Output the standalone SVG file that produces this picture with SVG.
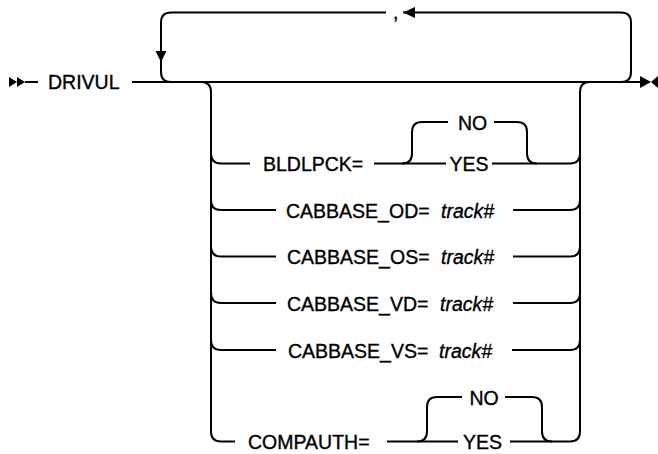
<svg xmlns="http://www.w3.org/2000/svg" width="658" height="454" viewBox="0 0 658 454">
<style>
.ln{fill:none;stroke:#000;stroke-width:2;stroke-linecap:butt;stroke-linejoin:round}
.mk{fill:#000;stroke:none}
text{font-family:"Liberation Sans",Arial,sans-serif;font-size:19.5px;fill:#000;stroke:#000;stroke-width:0.35}
.v{font-style:italic}
</style>
<rect width="658" height="454" fill="#fff"/>
<g id="connectors">
  <polygon class="mk" points="9,77 17,82 9,87"/>
  <polygon class="mk" points="17,77 25,82 17,87"/>
  <line class="ln" x1="25" y1="82" x2="38" y2="82"/>
  <line class="ln" x1="132" y1="82" x2="641" y2="82"/>
  <path class="ln" d="M621,82 Q631,82 631,72 L631,22.5 Q631,12.5 621,12.5 L403,12.5"/>
  <path class="ln" d="M386,12.5 L171,12.5 Q161,12.5 161,22.5 L161,72 Q161,82 171,82"/>
  <polygon class="mk" points="403,12.5 415,7 415,18"/>
  <polygon class="mk" points="161,62 155.5,51 166.5,51"/>
  <path class="ln" d="M201,82 Q211,82 211,92 L211,431.5 Q211,441.5 221,441.5 L235,441.5"/>
  <path class="ln" d="M590,82 Q580,82 580,92 L580,431.5 Q580,441.5 570,441.5 L510,441.5"/>
  <path class="ln" d="M211,153.5 Q211,163.5 221,163.5 L250,163.5"/>
  <line class="ln" x1="374" y1="163.5" x2="446" y2="163.5"/>
  <path class="ln" d="M492,163.5 L570,163.5 Q580,163.5 580,153.5"/>
  <path class="ln" d="M402,163.5 Q412,163.5 412,153.5 L412,132 Q412,122 422,122 L448,122"/>
  <path class="ln" d="M494,122 L517,122 Q527,122 527,132 L527,153.5 Q527,163.5 537,163.5"/>
  <path class="ln" d="M211,200 Q211,210 221,210 L276,210"/>
  <path class="ln" d="M513,210 L570,210 Q580,210 580,200"/>
  <path class="ln" d="M211,246.5 Q211,256.5 221,256.5 L276,256.5"/>
  <path class="ln" d="M513,256.5 L570,256.5 Q580,256.5 580,246.5"/>
  <path class="ln" d="M211,293 Q211,303 221,303 L276,303"/>
  <path class="ln" d="M513,303 L570,303 Q580,303 580,293"/>
  <path class="ln" d="M211,340 Q211,350 221,350 L276,350"/>
  <path class="ln" d="M512,350 L570,350 Q580,350 580,340"/>
  <line class="ln" x1="387" y1="441.5" x2="458" y2="441.5"/>
  <path class="ln" d="M417,441.5 Q427,441.5 427,431.5 L427,407 Q427,397 437,397 L462,397"/>
  <path class="ln" d="M505,397 L532,397 Q542,397 542,407 L542,431.5 Q542,441.5 552,441.5"/>
  <polygon class="mk" points="640,76 651,82 640,88"/>
  <polygon class="mk" points="658,76 651,82 658,88"/>
</g>
<g id="node-drivul"><text x="48" y="89">DRIVUL</text></g>
<g id="node-comma"><text x="393" y="19">,</text></g>
<g id="node-bldlpck">
  <text x="263" y="171">BLDLPCK=</text>
  <text x="472.5" y="129.5" text-anchor="middle">NO</text>
  <text x="469" y="171" text-anchor="middle">YES</text>
</g>
<g id="node-cabbase-od"><text x="286" y="217.5">CABBASE_OD=</text><text class="v" x="441" y="217.5">track#</text></g>
<g id="node-cabbase-os"><text x="287" y="264">CABBASE_OS=</text><text class="v" x="441" y="264">track#</text></g>
<g id="node-cabbase-vd"><text x="287" y="310.5">CABBASE_VD=</text><text class="v" x="440" y="310.5">track#</text></g>
<g id="node-cabbase-vs"><text x="288" y="357.5">CABBASE_VS=</text><text class="v" x="439" y="357.5">track#</text></g>
<g id="node-compauth">
  <text x="248" y="449">COMPAUTH=</text>
  <text x="484" y="404.5" text-anchor="middle">NO</text>
  <text x="482.5" y="449" text-anchor="middle">YES</text>
</g>
</svg>
